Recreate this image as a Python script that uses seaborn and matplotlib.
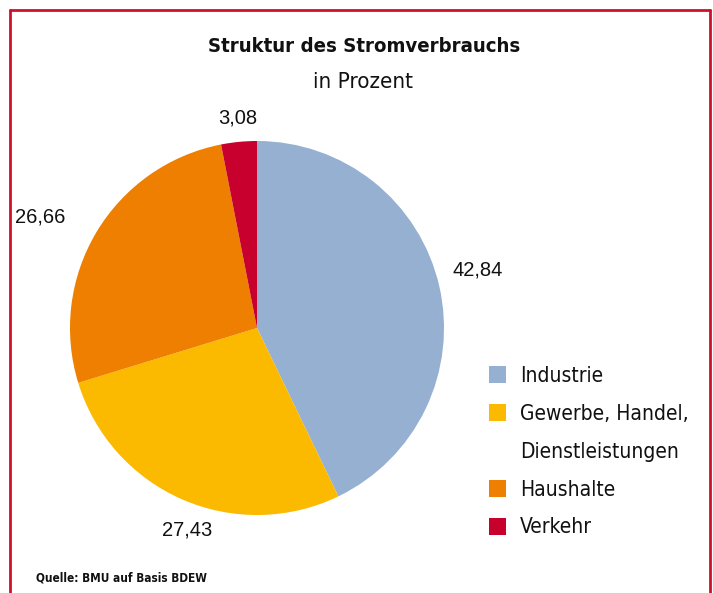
import numpy as np
import matplotlib
matplotlib.use("Agg")
import matplotlib.pyplot as plt
from matplotlib.lines import Line2D
from matplotlib.patches import Patch
import seaborn as sns

categories = ["Industrie", "Gewerbe, Handel,\nDienstleistungen", "Haushalte", "Verkehr"]
values = [42.84, 27.43, 26.66, 3.08]
value_labels = ["42,84", "27,43", "26,66", "3,08"]
colors = ["#95b0d1", "#fbb900", "#ee7f00", "#c8002d"]

sns.set_theme(style="white")
plt.rcParams['font.family'] = ['DejaVu Sans']

W, H = 713, 593
fig = plt.figure(figsize=(W / 100, H / 100), dpi=100)
fig.patch.set_facecolor("white")

cx, cy, r = 257, 328, 187
ax = fig.add_axes([(cx - r) / W, (H - cy - r) / H, 2 * r / W, 2 * r / H])
wedges, texts = ax.pie(values, colors=colors, startangle=90, counterclock=False,
                       labels=value_labels, labeldistance=1.2,
                       wedgeprops=dict(linewidth=0),
                       textprops=dict(fontsize=14.5, family=['Liberation Sans'],
                                      color="#111111"))
ax.set_xlim(-1, 1)
ax.set_ylim(-1, 1)
ax.set_aspect("equal")

# per-label radial distances / angles (styling of label placement)
dists = [1.22, 1.14, 1.30, 1.13]
angles_adj = [14.8, -109.0, 152.9, 95.2]
for t, d, a in zip(texts, dists, angles_adj):
    th = np.deg2rad(a)
    t.set_position((d * np.cos(th), d * np.sin(th)))
    t.set_ha("center")
    t.set_va("center")

cond = dict(family=['DejaVu Sans'], fontstretch='condensed')
fig.text(364 / W, 1 - 47 / H, "Struktur des Stromverbrauchs", ha="center", va="center",
         fontsize=14.6, fontweight="bold", color="#111111", **cond)
fig.text(363 / W, 1 - 82 / H, "in Prozent", ha="center", va="center",
         fontsize=16, color="#111111", **cond)
fig.text(36 / W, 1 - 578 / H, "Quelle: BMU auf Basis BDEW", ha="left", va="center",
         fontsize=8.5, fontweight="bold", color="#111111", **cond)

# legend: multi-line labels split into continuation rows without a marker
handles, labels = [], []
for w, lab in zip(wedges, categories):
    parts = lab.split("\n")
    handles.append(w)
    labels.append(parts[0])
    for extra in parts[1:]:
        handles.append(Patch(facecolor="none", edgecolor="none"))
        labels.append(extra)

leg = fig.legend(handles, labels, loc="upper left",
                 bbox_to_anchor=(470 / W, 1 - 347 / H), frameon=False,
                 prop=dict(size=15, family='DejaVu Sans', stretch='condensed'),
                 handlelength=0.85, handleheight=0.85, handletextpad=0.65,
                 labelspacing=0.86)
for t in leg.get_texts():
    t.set_color("#111111")

red = "#d0102a"
for xs, ys in [([10 / W, 10 / W], [0, 1 - 9.5 / H]),
               ([10 / W, 710 / W], [1 - 9.5 / H, 1 - 9.5 / H]),
               ([710 / W, 710 / W], [0, 1 - 9.5 / H])]:
    fig.add_artist(Line2D(xs, ys, transform=fig.transFigure, color=red, linewidth=2))

fig.savefig("out.png", dpi=100, facecolor="white")
